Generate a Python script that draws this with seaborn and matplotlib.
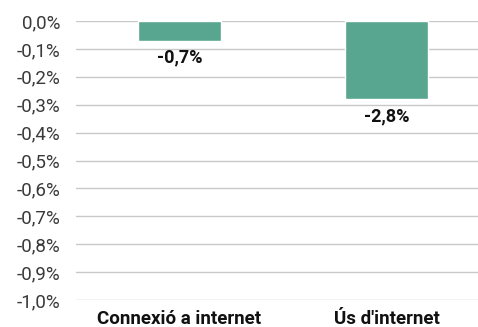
import seaborn as sns
import matplotlib.pyplot as plt
import pandas as pd
from matplotlib.ticker import FuncFormatter

# Dades
categories = ["Connexió a internet", "Ús d'internet"]
valors = [-0.7, -2.8]          # variació (%)
etiquetes = ["-0,7%", "-2,8%"]

df = pd.DataFrame({"categoria": categories, "valor": valors})

sns.set_theme(style="white")
plt.rcParams['font.family'] = ['Roboto', 'DejaVu Sans']

fig = plt.figure(figsize=(4.78, 3.27), dpi=100)
ax = fig.add_axes([76 / 478, 27 / 327, 414 / 478, 279 / 327])

sns.barplot(data=df, x="categoria", y="valor", color="#58a68f", width=0.4,
            saturation=1, ax=ax, zorder=3)

# eix Y: 0 a -10, etiquetes dividides per 10
ax.set_ylim(-10, 0)
ax.set_yticks([-i for i in range(0, 11)])
ax.yaxis.set_major_formatter(FuncFormatter(lambda v, p: f"{v / 10:.1f}%".replace(".", ",").replace("-0,0", "0,0")))
ax.set_xlim(-0.5, 1.5)
ax.grid(axis="y", color="#c8c8c8", linewidth=1, zorder=0)
ax.set_xlabel("")
ax.set_ylabel("")
for s in ax.spines.values():
    s.set_visible(False)

ax.tick_params(axis="y", length=0, pad=11, labelsize=13.5, labelcolor="#3a3a3a")
ax.tick_params(axis="x", length=0, pad=7, labelsize=13.5, labelcolor="#111111")
for t in ax.get_xticklabels():
    t.set_fontweight("bold")

for i, (v, e) in enumerate(zip(valors, etiquetes)):
    ax.text(i, v - 0.3, e, ha="center", va="top", fontsize=13, fontweight="bold", color="#111111")

fig.savefig("out.png", dpi=100)
